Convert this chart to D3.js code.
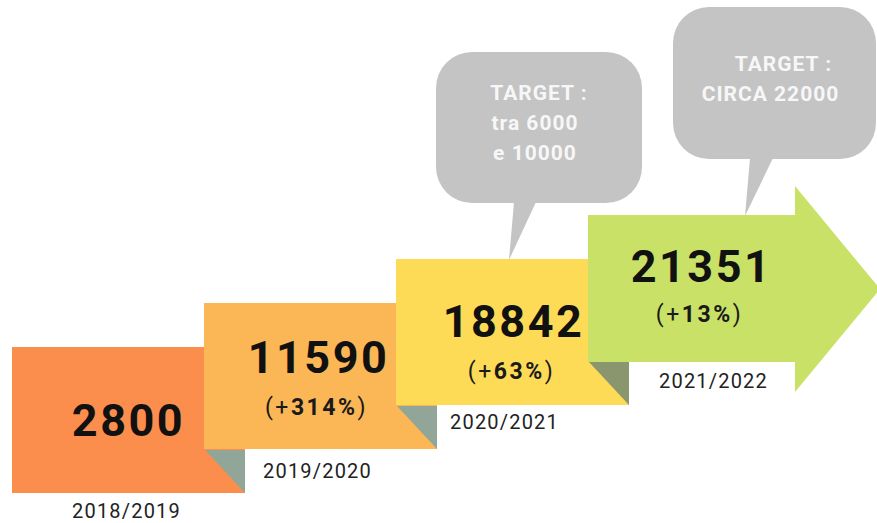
<!DOCTYPE html>
<html>
<head>
<meta charset="utf-8">
<script src="https://cdn.jsdelivr.net/npm/d3@7"></script>
<style>
  html, body { margin: 0; padding: 0; background: #ffffff; }
  svg { display: block; }
  text { font-family: Roboto, "Noto Sans", sans-serif; }
</style>
</head>
<body>
<svg id="chart" width="877" height="523"></svg>
<script>
// ---- data ----
const seasons = ["2018/2019", "2019/2020", "2020/2021", "2021/2022"];
const values = [2800, 11590, 18842, 21351];
const growth = [null, "+314%", "+63%", "+13%"];
const targetIndex = [2, 3];
const targetLines = [["TARGET :", "tra 6000", "e 10000"], ["TARGET :", "CIRCA 22000"]];

// ---- styles ----
const fills = ["#FC8E4D", "#FBB656", "#FDDB57", "#C9E166"];
const foldFills = ["#91A698", "#91A698", "#8A966E"];
const bubbleFill = "#C4C4C4";

const svg = d3.select("#chart");

const x = d3.scalePoint().domain(seasons).range([12, 588]);
const yTop = d3.scalePoint().domain(seasons).range([347, 215]);
const boxW = 233, boxH = 146, foldW = 40, foldH = 43;

const n = seasons.length;
const gBoxes = svg.append("g");

seasons.forEach((s, i) => {
  const x0 = x(s), y0 = yTop(s);
  if (i < n - 1) {
    gBoxes.append("rect").attr("x", x0).attr("y", y0).attr("width", boxW).attr("height", boxH)
      .attr("fill", fills[i]);
    const r = x0 + boxW, b = y0 + boxH;
    gBoxes.append("path")
      .attr("d", `M${r - foldW},${b - foldH}L${r},${b - foldH}L${r},${b}Z`)
      .attr("fill", foldFills[i]);
  } else {
    const bodyR = x0 + 207, b = y0 + 147;
    const headTop = y0 - 29, headBot = b + 30, tipX = 880, tipY = (headTop + headBot) / 2;
    gBoxes.append("path")
      .attr("d", `M${x0},${y0}L${bodyR},${y0}L${bodyR},${headTop}L${tipX},${tipY}L${bodyR},${headBot}L${bodyR},${b}L${x0},${b}Z`)
      .attr("fill", fills[i]);
  }
});

// value texts
const valueDx = [0, -2, 1, 10];
const valueDy = [0, 70, 78, 67];
const pctDy = [0, 112, 120, 107];
seasons.forEach((s, i) => {
  const x0 = x(s), y0 = yTop(s);
  const cx = (i < n - 1 ? x0 + boxW / 2 : x0 + 207 / 2) + valueDx[i];
  const vy = growth[i] === null ? y0 + boxH / 2 + 16 : y0 + valueDy[i];
  svg.append("text").attr("x", cx).attr("y", vy)
    .attr("text-anchor", "middle").attr("font-size", 45).attr("font-weight", 700)
    .attr("letter-spacing", 2.5).attr("fill", "#111").text(values[i]);
  if (growth[i] !== null) {
    const m = growth[i];
    const t = svg.append("text").attr("x", cx - 2).attr("y", y0 + pctDy[i])
      .attr("text-anchor", "middle").attr("font-size", 23)
      .attr("letter-spacing", 2.5).attr("fill", "#1a1a1a");
    t.append("tspan").attr("font-weight", 400).text("(+");
    t.append("tspan").attr("font-weight", 700).text(m.slice(1));
    t.append("tspan").attr("font-weight", 400).text(")");
  }
});

// season labels
const labelDx = [-2, -3, -8, 22];
const labelDy = [25, 29, 24, 26];
seasons.forEach((s, i) => {
  const x0 = x(s), y0 = yTop(s);
  const cx = (i < n - 1 ? x0 + boxW / 2 : x0 + 207 / 2) + labelDx[i];
  const b = y0 + (i < n - 1 ? boxH : 147);
  svg.append("text").attr("x", cx).attr("y", b + labelDy[i])
    .attr("text-anchor", "middle").attr("font-size", 20).attr("letter-spacing", 1.2)
    .attr("fill", "#222").text(s);
});

// target bubbles
const bubbleDx = [40, 85], bubbleW = [206, 203], bubbleH = [151, 152];
const tailTip = [113, 157], tailL = [118, 162], tailR = [140, 185];
targetIndex.forEach((idx, k) => {
  const s = seasons[idx];
  const x0 = x(s), y0 = yTop(s);
  const bx = x0 + bubbleDx[k], by = y0 - 56 - bubbleH[k];
  const g = svg.append("g");
  g.append("rect").attr("x", bx).attr("y", by).attr("width", bubbleW[k]).attr("height", bubbleH[k])
    .attr("rx", 36).attr("ry", 36).attr("fill", bubbleFill);
  g.append("path")
    .attr("d", `M${x0 + tailL[k]},${by + bubbleH[k] - 1}L${x0 + tailTip[k]},${y0 + 1}L${x0 + tailR[k]},${by + bubbleH[k] - 1}Z`)
    .attr("fill", bubbleFill);
  const lines = targetLines[k];
  const cx = bx + bubbleW[k] / 2;
  const firstY = k === 0 ? by + 48 : by + 64;
  lines.forEach((ln, j) => {
    g.append("text").attr("x", cx + (k === 1 && j === 0 ? 9 : (j === 0 ? 0 : -4)))
      .attr("y", firstY + j * 30)
      .attr("text-anchor", "middle").attr("font-size", 21).attr("font-weight", 700)
      .attr("letter-spacing", 1).attr("fill", "#F7F7F7").text(ln);
  });
});
</script>
</body>
</html>
